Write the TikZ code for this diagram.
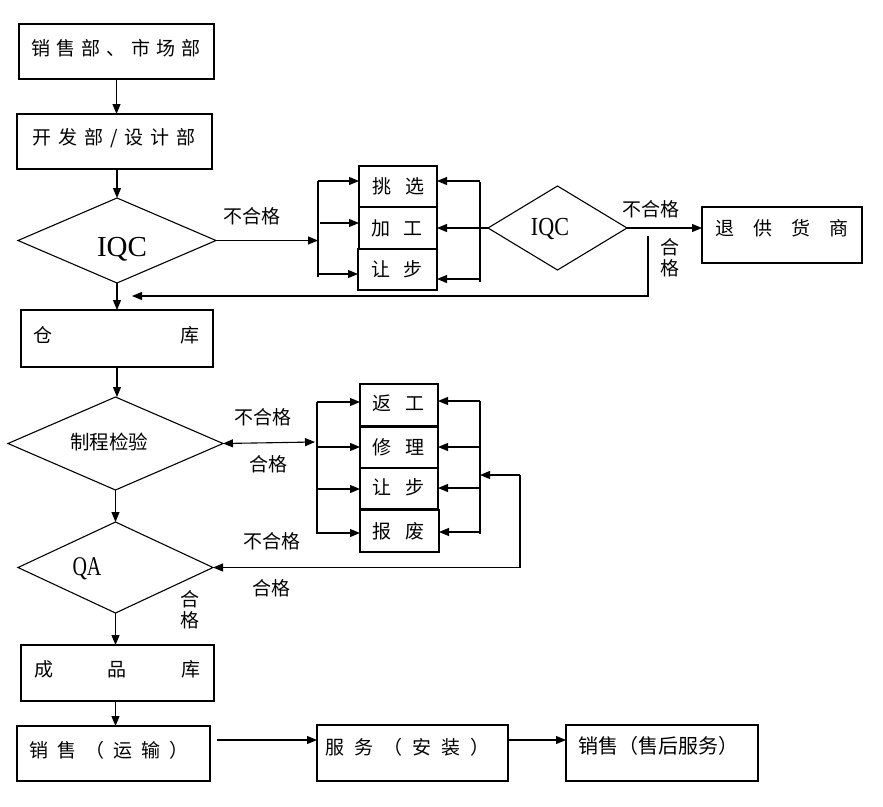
\documentclass[tikz,border=0pt]{standalone}
\usepackage{fontspec}
\usepackage{graphicx}
\setmainfont{Noto Sans CJK SC}
\newfontfamily\latfont{Liberation Serif}
\usetikzlibrary{arrows.meta,shapes.geometric}
\newcommand\fsz[1]{\fontsize{#1}{#1}\selectfont}
\ExplSyntaxOn
\NewDocumentCommand\spacedtext{m m}
 {
  \bool_set_false:N \l_tmpa_bool
  \tl_map_inline:nn {#2}
   {
    \bool_if:NT \l_tmpa_bool { \hspace{#1} }
    ##1
    \bool_set_true:N \l_tmpa_bool
   }
 }
\ExplSyntaxOff
\begin{document}
\begin{tikzpicture}[x=1pt,y=-1pt,
  box/.style={draw,rectangle,line width=1.1pt,inner sep=0pt,outer sep=0pt},
  dia/.style={draw,diamond,line width=1.1pt,inner sep=0pt,outer sep=0pt,aspect=2},
  txt/.style={inner sep=0pt,outer sep=0pt,font=\fsz{19pt}},
  lbl/.style={inner sep=0pt,outer sep=0pt,font=\fsz{19pt}},
  vlbl/.style={inner sep=0pt,outer sep=0pt,align=center,font=\fontsize{19pt}{21pt}\selectfont},
  conn/.style={line width=1.1pt},
  arr/.style={conn,-{Triangle[length=10pt,width=8pt]}},
  darr/.style={conn,{Triangle[length=10pt,width=8pt]}-{Triangle[length=10pt,width=8pt]}}]
\useasboundingbox (0,0) rectangle (883,806);

% ---- main column ----
\node[box,minimum width=195pt,minimum height=55pt] (b1) at (116.5,51.5) {};
\node[txt] (t1) at (116,48) {\spacedtext{6pt}{销售部、市场部}};
\node[box,minimum width=195pt,minimum height=55pt] (b2) at (114.5,141.5) {};
\node[txt] (t2) at (114,138) {\spacedtext{7pt}{开发部/设计部}};
\node[dia,minimum width=198pt,minimum height=85pt] (iqc1) at (117,240.5) {};
\node[inner sep=0pt,font=\latfont\fsz{29pt}] (ti1) at (122,249) {IQC};
\node[box,minimum width=192pt,minimum height=57pt] (wh) at (117,338.5) {};
\node[txt] (twh) at (116.5,335) {\spacedtext{128pt}{仓库}};
\node[dia,minimum width=215pt,minimum height=93pt] (qc) at (115.5,443.5) {};
\node[inner sep=0pt,font=\fsz{19.5pt}] (tqc) at (109,442) {制程检验};
\node[dia,minimum width=195pt,minimum height=91pt] (qa) at (115.5,567.5) {};
\node[inner sep=0pt,font=\latfont\fsz{27pt}] (tqa) at (87,569) {\scalebox{0.74}[1]{QA}};
\node[box,minimum width=193pt,minimum height=56pt] (fg) at (117.5,673) {};
\node[txt] (tfg) at (117.5,669) {\spacedtext{54.5pt}{成品库}};
\node[box,minimum width=193pt,minimum height=55pt] (sale) at (113.5,753.5) {};
\node[txt] (tsale) at (109,750) {\spacedtext{9pt}{销售（运输）}};
\node[box,minimum width=191pt,minimum height=56pt] (serv) at (412.5,753) {};
\node[txt] (tserv) at (407.5,747) {\spacedtext{10pt}{服务（安装）}};
\node[box,minimum width=192pt,minimum height=56pt] (after) at (662,753) {};
\node[inner sep=0pt,font=\fsz{20pt}] (tafter) at (658,746) {销售（售后服务）};

% ---- upper side boxes ----
\node[box,minimum width=78pt,minimum height=41pt] (pick) at (398,186.5) {};
\node[txt] (tpick) at (398.5,186) {\spacedtext{14pt}{挑选}};
\node[box,minimum width=78pt,minimum height=42pt] (proc) at (398,228) {};
\node[txt] (tproc) at (397,228) {\spacedtext{14pt}{加工}};
\node[box,minimum width=79pt,minimum height=41pt] (conc) at (397.5,269.5) {};
\node[txt] (tconc) at (397,269) {\spacedtext{14pt}{让步}};
\node[dia,minimum width=139pt,minimum height=84pt] (iqc2) at (557.5,228) {};
\node[inner sep=0pt,font=\latfont\fsz{26pt}] (ti2) at (550,229) {\scalebox{0.85}[1]{IQC}};
\node[box,minimum width=160pt,minimum height=56pt] (ret) at (782,235) {};
\node[txt] (tret) at (782,228) {\spacedtext{19pt}{退供货商}};

% ---- lower side boxes ----
\node[box,minimum width=78pt,minimum height=42pt] (rework) at (399,405) {};
\node[txt] (trework) at (398.5,403) {\spacedtext{14pt}{返工}};
\node[box,minimum width=78pt,minimum height=41pt] (repair) at (399,447.5) {};
\node[txt] (trepair) at (398.5,447) {\spacedtext{14pt}{修理}};
\node[box,minimum width=78pt,minimum height=41pt] (conc2) at (399,488.5) {};
\node[txt] (tconc2) at (398.5,487) {\spacedtext{14pt}{让步}};
\node[box,minimum width=79pt,minimum height=42pt] (scrap) at (399.5,531) {};
\node[txt] (tscrap) at (398.5,531) {\spacedtext{14pt}{报废}};

% ---- labels ----
\node[lbl] (l1) at (252,216) {不合格};
\node[lbl] (l2) at (651,209) {不合格};
\node[vlbl] (l3) at (670,258) {合\\格};
\node[lbl] (l4) at (263,417) {不合格};
\node[lbl] (l5) at (268,464) {合格};
\node[lbl] (l6) at (272,541) {不合格};
\node[lbl] (l7) at (271,588) {合格};
\node[vlbl] (l8) at (190,610) {合\\格};

% ---- coordinates ----
\coordinate (L1m) at (318,240.5);
\coordinate (L1a) at (318,181);
\coordinate (L1b) at (320,223);
\coordinate (L1c) at (318,274);
\coordinate (L1t) at (318,181);
\coordinate (L1e) at (318,277);
\coordinate (R1a) at (480,181);
\coordinate (R1t) at (480,182);
\coordinate (R1e) at (480,282);
\coordinate (R1c) at (480,279);
\coordinate (rt1) at (648,236);
\coordinate (rt2) at (132,296);
\coordinate (dbl) at (315,442);
\coordinate (L2t) at (317,402);
\coordinate (L2b) at (317,447);
\coordinate (L2c) at (317,489);
\coordinate (L2e) at (317,534);
\coordinate (L2d) at (317,533);
\coordinate (R2t) at (480,401);
\coordinate (R2b) at (480,447);
\coordinate (R2c) at (480,488);
\coordinate (R2d) at (480,532);
\coordinate (R2e) at (480,534);
\coordinate (R2in) at (480,475);
\coordinate (fb1) at (520,475);
\coordinate (st) at (217,740);

% ---- main connectors ----
\draw[arr] (b1.south) -- (b1.south |- b2.north);
\draw[arr] (iqc1.north |- b2.south) -- (iqc1.north);
\draw[arr] (iqc1.south) -- (iqc1.south |- wh.north);
\draw[arr] (wh.south) -- (wh.south |- qc.north);
\draw[arr] (qc.south) -- (qa.north);
\draw[arr] (qa.south) -- (qa.south |- fg.north);
\draw[arr] ([xshift=-2pt]fg.south) -- ([xshift=-2pt]fg.south |- sale.north);
\draw[arr] (st) -- (st -| serv.west);
\draw[arr] (st -| serv.east) -- (st -| after.west);

% ---- IQC loop ----
\draw[arr] (iqc1.east) -- (L1m);
\draw[conn] (L1t) -- (L1e);
\draw[arr] (L1a) -- (L1a -| pick.west);
\draw[arr] (L1b) -- (L1b -| proc.west);
\draw[arr] (L1c) -- (L1c -| conc.west);
\draw[conn] (R1t) -- (R1e);
\draw[arr] (R1a) -- (R1a -| pick.east);
\draw[arr] (iqc2.west) -- (iqc2.west -| proc.east);
\draw[arr] (R1c) -- (R1c -| conc.east);
\draw[arr] (iqc2.east) -- (iqc2.east -| ret.west);
\draw[arr] (rt1) |- (rt2);

% ---- process check loop ----
\draw[darr] (qc.east) -- (dbl);
\draw[conn] (L2t) -- (L2e);
\draw[arr] (L2t) -- (L2t -| rework.west);
\draw[arr] (L2b) -- (L2b -| repair.west);
\draw[arr] (L2c) -- (L2c -| conc2.west);
\draw[arr] (L2d) -- (L2d -| scrap.west);
\draw[conn] (R2t) -- (R2e);
\draw[arr] (R2t) -- (R2t -| rework.east);
\draw[arr] (R2b) -- (R2b -| repair.east);
\draw[arr] (R2c) -- (R2c -| conc2.east);
\draw[arr] (R2d) -- (R2d -| scrap.east);
\draw[arr] (fb1) -- (R2in);
\draw[arr] (fb1) |- (qa.east);
\end{tikzpicture}
\end{document}
